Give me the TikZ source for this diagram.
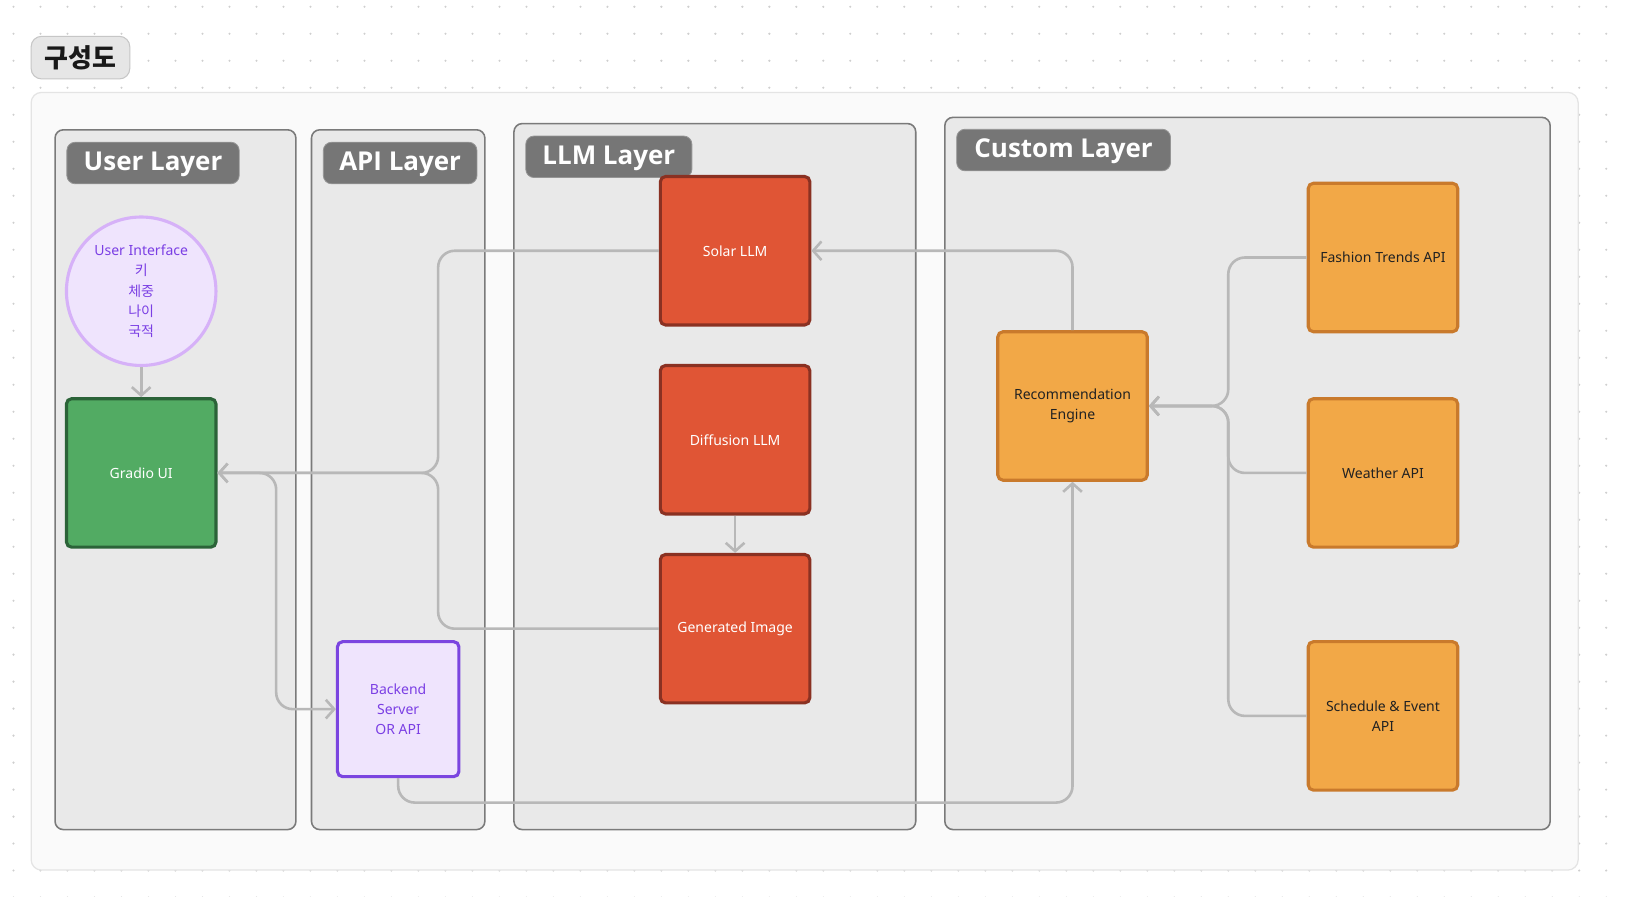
\documentclass[tikz,border=0pt]{standalone}
\usepackage{fontspec}
\setmainfont{Noto Sans}
\newfontfamily\kr{Noto Sans CJK KR}
\newfontfamily\lab{Open Sans}
\usetikzlibrary{arrows.meta,shapes.geometric}
\definecolor{dotc}{HTML}{CFCFCF}
\definecolor{outerfill}{HTML}{FAFAFA}
\definecolor{outerline}{HTML}{E4E4E4}
\definecolor{layerfill}{HTML}{E9E9E9}
\definecolor{layerline}{HTML}{7A7A7A}
\definecolor{labelfill}{HTML}{767676}
\definecolor{titlefill}{HTML}{E6E6E6}
\definecolor{titleline}{HTML}{C6C6C6}
\definecolor{redfill}{HTML}{E05535}
\definecolor{redline}{HTML}{8A3122}
\definecolor{orfill}{HTML}{F2A847}
\definecolor{orline}{HTML}{C97A2C}
\definecolor{grfill}{HTML}{52AB63}
\definecolor{grline}{HTML}{2B6338}
\definecolor{lavfill}{HTML}{EFE4FD}
\definecolor{lavline}{HTML}{7B45E0}
\definecolor{uiline}{HTML}{D6B1F8}
\definecolor{purtext}{HTML}{7B3FE4}
\definecolor{conncol}{HTML}{B8B8B8}
\definecolor{darktext}{HTML}{222222}
\begin{document}
\begin{tikzpicture}[x=1pt,y=-1pt,
  layer/.style={draw=layerline,fill=layerfill,line width=1.5,rounded corners=8},
  layerlabel/.style={fill=labelfill,draw=layerline!80,line width=0.8,rounded corners=8,text=white,
    font=\lab\bfseries\fontsize{25}{30}\selectfont,inner sep=0,minimum height=40,anchor=west,
    text height=19,text depth=5},
  box/.style={rectangle,rounded corners=5,line width=3,minimum width=144,minimum height=143,
    inner sep=2,align=center,font=\fontsize{13.5}{19.5}\selectfont},
  redbox/.style={box,fill=redfill,draw=redline,text=white},
  orbox/.style={box,fill=orfill,draw=orline,text=darktext},
  conn/.style={draw=conncol,line width=2.5,rounded corners=16},
  arr/.style={-{Straight Barb[length=8,width=18]}}
]
\useasboundingbox (0,0) rectangle (1568,863);
\fill[white] (0,0) rectangle (1568,863);
\foreach \i in {0,...,60}{\foreach \j in {0,...,33}{\fill[dotc] (13+\i*26,6.5+\j*26) circle (1.1);}}
% title
\node[fill=titlefill,draw=titleline,line width=1,rounded corners=10,minimum width=95,minimum height=41,
  inner sep=0,font=\kr\bfseries\fontsize{25}{28}\selectfont,text=black!90] (title) at (77.5,55.5) {구성도};
% outer container
\draw[fill=outerfill,draw=outerline,line width=1.2,rounded corners=10] (30,89) rectangle (1520,838);
% layers
\draw[layer] (53,125) rectangle (285,799);
\draw[layer] (300,125) rectangle (467,799);
\draw[layer] (495,119) rectangle (882,799);
\draw[layer] (910,113) rectangle (1493,799);
\node[layerlabel,minimum width=166] (lu) at (64,157) {User Layer};
\node[layerlabel,minimum width=148] (la) at (311,157) {API Layer};
\node[layerlabel,minimum width=160] (ll) at (506,151) {LLM Layer};
\node[layerlabel,minimum width=206] (lc) at (921,144.5) {Custom Layer};
% nodes
\node[ellipse,fill=lavfill,draw=uiline,line width=3,minimum width=144,minimum height=143,inner sep=0,
  align=center,text=purtext,font=\fontsize{13.5}{19.5}\selectfont] (ui) at (136,280.5)
  {User Interface\\{\kr 키}\\{\kr 체중}\\{\kr 나이}\\{\kr 국적}};
\node[box,fill=grfill,draw=grline,text=white] (gradio) at (136,455.5) {Gradio UI};
\node[box,fill=lavfill,draw=lavline,text=purtext,minimum width=117,minimum height=130] (backend) at (383.5,683)
  {Backend\\Server\\OR API};
\node[redbox] (solar) at (708,241.5) {Solar LLM};
\node[redbox] (diff) at (708,423.5) {Diffusion LLM};
\node[redbox] (gen) at (708,605.5) {Generated Image};
\node[orbox] (rec) at (1033,391) {Recommendation\\Engine};
\node[orbox] (fash) at (1332,248) {Fashion Trends API};
\node[orbox] (weather) at (1332,455.5) {Weather API};
\node[orbox] (sched) at (1332,689.5) {Schedule \& Event\\API};
% junctions
\coordinate (j1) at (422,455.5);
\coordinate (j2) at (266,683);
\coordinate (j3) at (1033,773);
\coordinate (j4) at (1183,391);
% connectors
\draw[conn,arr] (ui.south) -- (gradio.north);
\draw[conn,arr] (diff.south) -- (gen.north);
\draw[conn,arr] (solar.west) -| (j1) -- (gradio.east);
\draw[conn,arr] (gen.west) -| (j1) -- (gradio.east);
\draw[conn,arr] (gradio.east) -| (j2) -- (backend.west);
\draw[conn,arr] (backend.south) |- (j3) -- (rec.south);
\draw[conn,arr] (rec.north) |- (solar.east);
\draw[conn,arr] (fash.west) -| (j4) -- (rec.east);
\draw[conn,arr] (weather.west) -| (j4) -- (rec.east);
\draw[conn,arr] (sched.west) -| (j4) -- (rec.east);
\end{tikzpicture}
\end{document}
